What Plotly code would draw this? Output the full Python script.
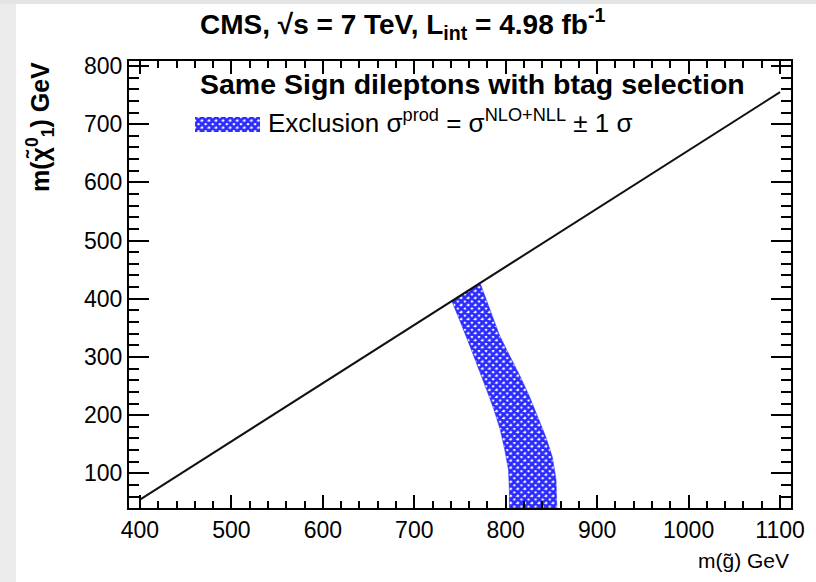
import plotly.graph_objects as go

# ---- data ----
# kinematic line m(chi) = m(gluino) - 2 m(top)
line_x = [400, 1100]
line_y = [55, 755]

# exclusion band (sigma_prod = sigma_NLO+NLL +- 1 sigma)
band_left_x = [804, 804, 803, 799, 794, 787, 779, 770, 761, 751, 741]
band_left_y = [38, 70, 106, 140, 175, 210, 244, 282, 318, 358, 396]
band_right_x = [772, 782, 793, 805, 816, 826, 835, 844, 851, 855, 856]
band_right_y = [427, 385, 338, 300, 266, 232, 197, 162, 128, 90, 38]

x_ticks = [400, 500, 600, 700, 800, 900, 1000, 1100]
y_ticks = [100, 200, 300, 400, 500, 600, 700, 800]

FONT = "Liberation Sans, Arial, Helvetica, sans-serif"
BLUE = "#2b2bff"
pattern = dict(shape="x", bgcolor="white", fgcolor=BLUE, size=5, solidity=0.8, fillmode="replace")

fig = go.Figure()

band_x = band_left_x + band_right_x + [band_left_x[0]]
band_y = band_left_y + band_right_y + [band_left_y[0]]
fig.add_trace(go.Scatter(x=band_x, y=band_y, mode="lines", fill="toself",
                         line=dict(width=0.5, color=BLUE),
                         fillcolor=BLUE, fillpattern=pattern, showlegend=False, hoverinfo="skip"))

fig.add_trace(go.Scatter(x=line_x, y=line_y, mode="lines",
                         line=dict(color="#111111", width=2), showlegend=False))

# legend swatch on a hidden helper axis
fig.add_trace(go.Scatter(x=[0, 1, 1, 0, 0], y=[0, 0, 1, 1, 0], mode="lines", fill="toself",
                         line=dict(width=0, color=BLUE), fillcolor=BLUE, fillpattern=pattern,
                         xaxis="x2", yaxis="y2", showlegend=False, hoverinfo="skip"))

L, R, T, B = 129, 791, 61, 508
W, H = 816, 582
pw, ph = R - L, B - T

def px(xp):
    return (xp - L) / pw

def py(yp):
    return (B - yp) / ph

axis_common = dict(showgrid=False, zeroline=False, showline=True, linecolor="black", linewidth=2,
                   mirror="allticks", ticks="inside", tickcolor="black", tickwidth=1.5,
                   tickfont=dict(family=FONT, size=23, color="black"))

fig.update_layout(
    width=W, height=H,
    margin=dict(l=L, r=W - R, t=T, b=H - B),
    paper_bgcolor="white", plot_bgcolor="white",
    font=dict(family=FONT, color="black"),
    xaxis=dict(range=[388, 1112], tickvals=x_ticks, ticklen=13,
               minor=dict(dtick=20, tick0=400, ticks="inside", ticklen=7, tickcolor="black", tickwidth=1.5),
               **axis_common),
    yaxis=dict(range=[40.5, 808.5], tickvals=y_ticks, ticklen=20,
               minor=dict(dtick=20, tick0=100, ticks="inside", ticklen=10, tickcolor="black", tickwidth=1.5),
               **axis_common),
    xaxis2=dict(domain=[px(195), px(260)], range=[0, 1], visible=False, anchor="y2"),
    yaxis2=dict(domain=[py(132), py(117)], range=[0, 1], visible=False, anchor="x2"),
    showlegend=False,
    shapes=[
        dict(type="rect", xref="paper", yref="paper", x0=px(0), x1=px(16), y0=py(H), y1=py(0),
             fillcolor="#ececec", line=dict(width=0), layer="below"),
        dict(type="rect", xref="paper", yref="paper", x0=px(0), x1=px(W), y0=py(4), y1=py(0),
             fillcolor="#e4e4e4", line=dict(width=0), layer="below"),
    ],
)

annotations = [
    dict(text="<b>CMS, √s = 7 TeV, L<sub>int</sub> = 4.98 fb<sup>-1</sup></b>", x=px(402), y=py(24),
         xanchor="center", yanchor="middle", font=dict(size=28, family=FONT)),
    dict(text="<b>Same Sign dileptons with btag selection</b>", x=px(198), y=py(84),
         xanchor="left", yanchor="middle", font=dict(size=28.5, family=FONT)),
    dict(text="Exclusion σ<sup>prod</sup> = σ<sup>NLO+NLL</sup> ± 1 σ", x=px(266), y=py(122),
         xanchor="left", yanchor="middle", font=dict(size=26, family=FONT)),
    dict(text="m(g̃) GeV", x=px(791), y=py(560), xanchor="right", yanchor="middle",
         font=dict(size=21, family=FONT)),
    dict(text="<b>m(χ̃<sup>0</sup><sub>1</sub>) GeV</b>", x=px(40), y=py(60), xanchor="center",
         yanchor="top", textangle=-90, font=dict(size=25, family=FONT)),
]
for a in annotations:
    a.update(xref="paper", yref="paper", showarrow=False)
fig.update_layout(annotations=annotations)

fig.write_html("out.html")
